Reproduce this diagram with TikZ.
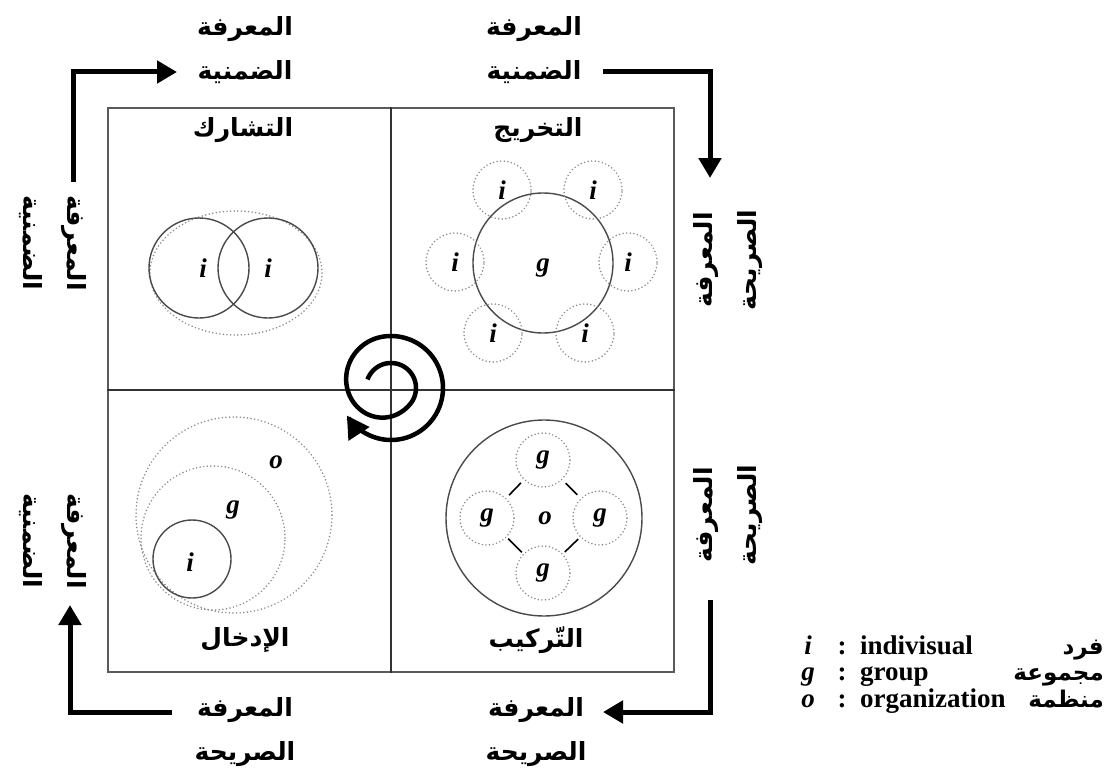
\documentclass[tikz,border=0pt]{standalone}
\usepackage{fontspec}
\setmainfont{Liberation Serif}
\newfontfamily\arabicfont[Script=Arabic]{DejaVu Sans}
\TeXXeTstate=1
\usetikzlibrary{arrows.meta,shapes.geometric}
\newcommand{\artxt}[1]{\beginR #1\endR}
\definecolor{framegray}{HTML}{5A5A5A}
\definecolor{crossgray}{HTML}{333333}
\definecolor{circgray}{HTML}{4A4A4A}
\definecolor{dotgray}{HTML}{8A8A8A}
\tikzset{
  lbl/.style={font={\arabicfont\bfseries\fontsize{25}{44}\selectfont}, align=center, inner sep=0pt},
  qlbl/.style={font={\arabicfont\bfseries\fontsize{25}{30}\selectfont}, inner sep=0pt},
  letter/.style={font={\bfseries\itshape\fontsize{27}{30}\selectfont}, inner sep=0pt},
  solidc/.style={circle, draw=circgray, line width=1.4pt, inner sep=0pt},
  dotc/.style={circle, draw=dotgray, line width=1.7pt, dash pattern=on 0pt off 3.6pt, line cap=round, inner sep=0pt},
  bigarrow/.style={line width=5pt, line join=miter, -{Triangle[length=20pt,width=22pt]}},
  link/.style={line width=1.6pt, shorten <=21pt, shorten >=21pt},
  legtxt/.style={font={\bfseries\fontsize{27}{27}\selectfont}, inner sep=0pt},
  legar/.style={font={\arabicfont\bfseries\fontsize{23}{27}\selectfont}, inner sep=0pt, anchor=mid east},
}
\begin{document}
\begin{tikzpicture}[x=1pt, y=-1pt,
  declare function={tt(\s)=min(1,max(0,(\s-200)/220)); rr(\s)=25+27*tt(\s)*tt(\s)*(3-2*tt(\s));}]
\useasboundingbox (0,0) rectangle (1108,773);

% frame and quadrant dividers
\node[draw=framegray, line width=2pt, minimum width=566pt, minimum height=564pt, inner sep=0pt, anchor=north west] (frame) at (107,107) {};
\draw[crossgray, line width=1.6pt] (frame.north) -- (frame.south);
\draw[crossgray, line width=1.6pt] (frame.west) -- (frame.east);

% outer knowledge labels
\node[lbl] (tl) at (245,50) {\artxt{المعرفة}\\\artxt{الضمنية}};
\node[lbl] (tr) at (534,50) {\artxt{المعرفة}\\\artxt{الضمنية}};
\node[lbl] (bl) at (245,732) {\artxt{المعرفة}\\\artxt{الصريحة}};
\node[lbl] (br) at (536,732) {\artxt{المعرفة}\\\artxt{الصريحة}};
\node[lbl, rotate=-90] (lu) at (53,243) {\artxt{المعرفة}\\\artxt{الضمنية}};
\node[lbl, rotate=-90] (ld) at (53,541) {\artxt{المعرفة}\\\artxt{الضمنية}};
\node[lbl, rotate=90] (ru) at (728,260) {\artxt{المعرفة}\\\artxt{الصريحة}};
\node[lbl, rotate=90] (rd) at (728,515) {\artxt{المعرفة}\\\artxt{الصريحة}};

% cycle arrows
\coordinate (a1s) at (73,182);  \coordinate (a1e) at (177,72);
\coordinate (a2s) at (603,72);  \coordinate (a2e) at (710,178);
\coordinate (a3s) at (710,600); \coordinate (a3e) at (603,712);
\coordinate (a4s) at (172,712); \coordinate (a4e) at (70,605);
\draw[bigarrow] (a1s) |- (a1e);
\draw[bigarrow] (a2s) -| (a2e);
\draw[bigarrow] (a3s) |- (a3e);
\draw[bigarrow] (a4s) -| (a4e);

% quadrant titles
\node[qlbl] (q1) at (243,130) {\artxt{التشارك}};
\node[qlbl] (q2) at (538,130) {\artxt{التخريج}};
\node[qlbl] (q3) at (245,640) {\artxt{الإدخال}};
\node[qlbl] (q4) at (536,640) {\artxt{التّركيب}};

% socialization: two individuals
\node[dotc, ellipse, minimum width=172pt, minimum height=124pt] (soe) at (236,273) {};
\node[solidc, minimum size=100pt] (soa) at (199,268) {};
\node[solidc, minimum size=100pt] (sob) at (268,268) {};
\node[letter] (soai) at (203,268) {i};
\node[letter] (sobi) at (268,268) {i};

% externalization: individuals around a group
\node[solidc, minimum size=140pt] (exg) at (543,263) {};
\node[letter] (exgl) at (543,268) {g};
\foreach \n/\px/\py in {e1/502/190, e2/593/190, e3/455/262, e4/628/262, e5/493/333, e6/585/333}
  \node[dotc, minimum size=58pt, letter] (\n) at (\px,\py) {i};

% combination: groups inside an organization
\node[solidc, minimum size=196pt] (cmo) at (544,518) {};
\node[letter] (cmol) at (545,518) {o};
\node[dotc, minimum size=54pt, letter] (gt) at (543,460) {g};
\node[dotc, minimum size=54pt, letter] (gl) at (487,518) {g};
\node[dotc, minimum size=54pt, letter] (gr) at (600,518) {g};
\node[dotc, minimum size=54pt, letter] (gb) at (543,573) {g};
\draw[link] (gt) -- (gl);
\draw[link] (gt) -- (gr);
\draw[link] (gb) -- (gl);
\draw[link] (gb) -- (gr);

% internalization: nested individual, group, organization
\node[dotc, minimum size=196pt] (ino) at (234,515) {};
\node[dotc, minimum size=144pt] (ing) at (213,538) {};
\node[solidc, minimum size=78pt] (ini) at (192,559) {};
\node[letter] (inil) at (190,562) {i};
\node[letter] (ingl) at (233,510) {g};
\node[letter] (inol) at (276,462) {o};

% knowledge spiral
\draw[line width=4.5pt, -{Triangle[length=22pt,width=24pt]}]
  plot[domain=0:668, samples=160, smooth, variable=\s]
  ({391+rr(\s)*cos(160-\s)}, {388-rr(\s)*sin(160-\s)});

% legend
\node[letter, anchor=mid] (k1) at (808,652) {i};
\node[letter, anchor=mid] (k2) at (808,678) {g};
\node[letter, anchor=mid] (k3) at (808,705) {o};
\node[legtxt, anchor=mid] (c1) at (842,652) {:};
\node[legtxt, anchor=mid] (c2) at (842,678) {:};
\node[legtxt, anchor=mid] (c3) at (842,705) {:};
\node[legtxt, anchor=mid west] (w1) at (860,652) {indivisual};
\node[legtxt, anchor=mid west] (w2) at (860,678) {group};
\node[legtxt, anchor=mid west] (w3) at (860,705) {organization};
\node[legar] (r1) at (1104,652) {\artxt{فرد}};
\node[legar] (r2) at (1104,678) {\artxt{مجموعة}};
\node[legar] (r3) at (1104,705) {\artxt{منظمة}};
\end{tikzpicture}
\end{document}
